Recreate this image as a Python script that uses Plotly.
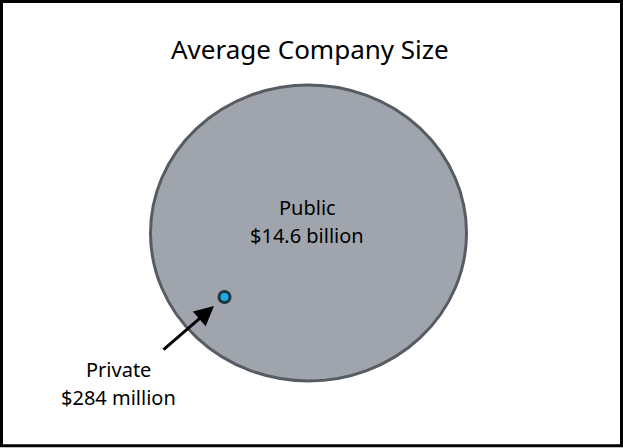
import plotly.graph_objects as go

# Data
companies = ["Public", "Private"]
avg_size = [14.6, 284]
units = ["billion", "million"]
title_text = "Average Company Size"

W, H = 623, 448
FONT = "Noto Sans"

fig = go.Figure()

# Big ellipse (Public)
fig.add_shape(type="circle", xref="x", yref="y",
              x0=150.5, x1=466.5, y0=85, y1=381,
              fillcolor="#A0A5AD", line=dict(color="#575C63", width=3), layer="below")

# Small circle (Private) as a marker
fig.add_trace(go.Scatter(x=[224.5], y=[297], mode="markers",
                         marker=dict(size=11, color="#1AAEE3",
                                     line=dict(color="#1D3746", width=3)),
                         hoverinfo="skip", showlegend=False))

# Border
fig.add_shape(type="rect", xref="x", yref="y", x0=1.5, x1=621.5, y0=1.5, y1=445.7,
              line=dict(color="black", width=3), fillcolor="rgba(0,0,0,0)")

# Title
fig.add_annotation(x=310, y=49, xref="x", yref="y", text=title_text, showarrow=False,
                   font=dict(family=FONT, size=26, color="black"))

# Public labels
fig.add_annotation(x=307, y=207, xref="x", yref="y", text=companies[0], showarrow=False,
                   font=dict(family=FONT, size=20, color="black"))
fig.add_annotation(x=307, y=235, xref="x", yref="y",
                   text=f"${avg_size[0]} {units[0]}", showarrow=False,
                   font=dict(family=FONT, size=20, color="black"))

# Private labels
fig.add_annotation(x=118, y=369, xref="x", yref="y", text=companies[1], showarrow=False,
                   font=dict(family=FONT, size=20, color="black"))
fig.add_annotation(x=118, y=397, xref="x", yref="y",
                   text=f"${avg_size[1]} {units[1]}", showarrow=False,
                   font=dict(family=FONT, size=20, color="black"))

# Arrow
fig.add_annotation(x=214, y=306, xref="x", yref="y", ax=162, ay=351,
                   axref="x", ayref="y", text="", showarrow=True,
                   arrowhead=2, arrowsize=1.3, arrowwidth=3, arrowcolor="black",
                   standoff=0)

fig.update_xaxes(range=[0, W], visible=False, fixedrange=True)
fig.update_yaxes(range=[H, 0], visible=False, fixedrange=True)
fig.update_layout(width=W, height=H, margin=dict(l=0, r=0, t=0, b=0),
                  paper_bgcolor="white", plot_bgcolor="white")

fig.write_html("out.html", config={"displayModeBar": False},
               post_script="document.body.style.margin='0';document.body.style.overflow='hidden';")
